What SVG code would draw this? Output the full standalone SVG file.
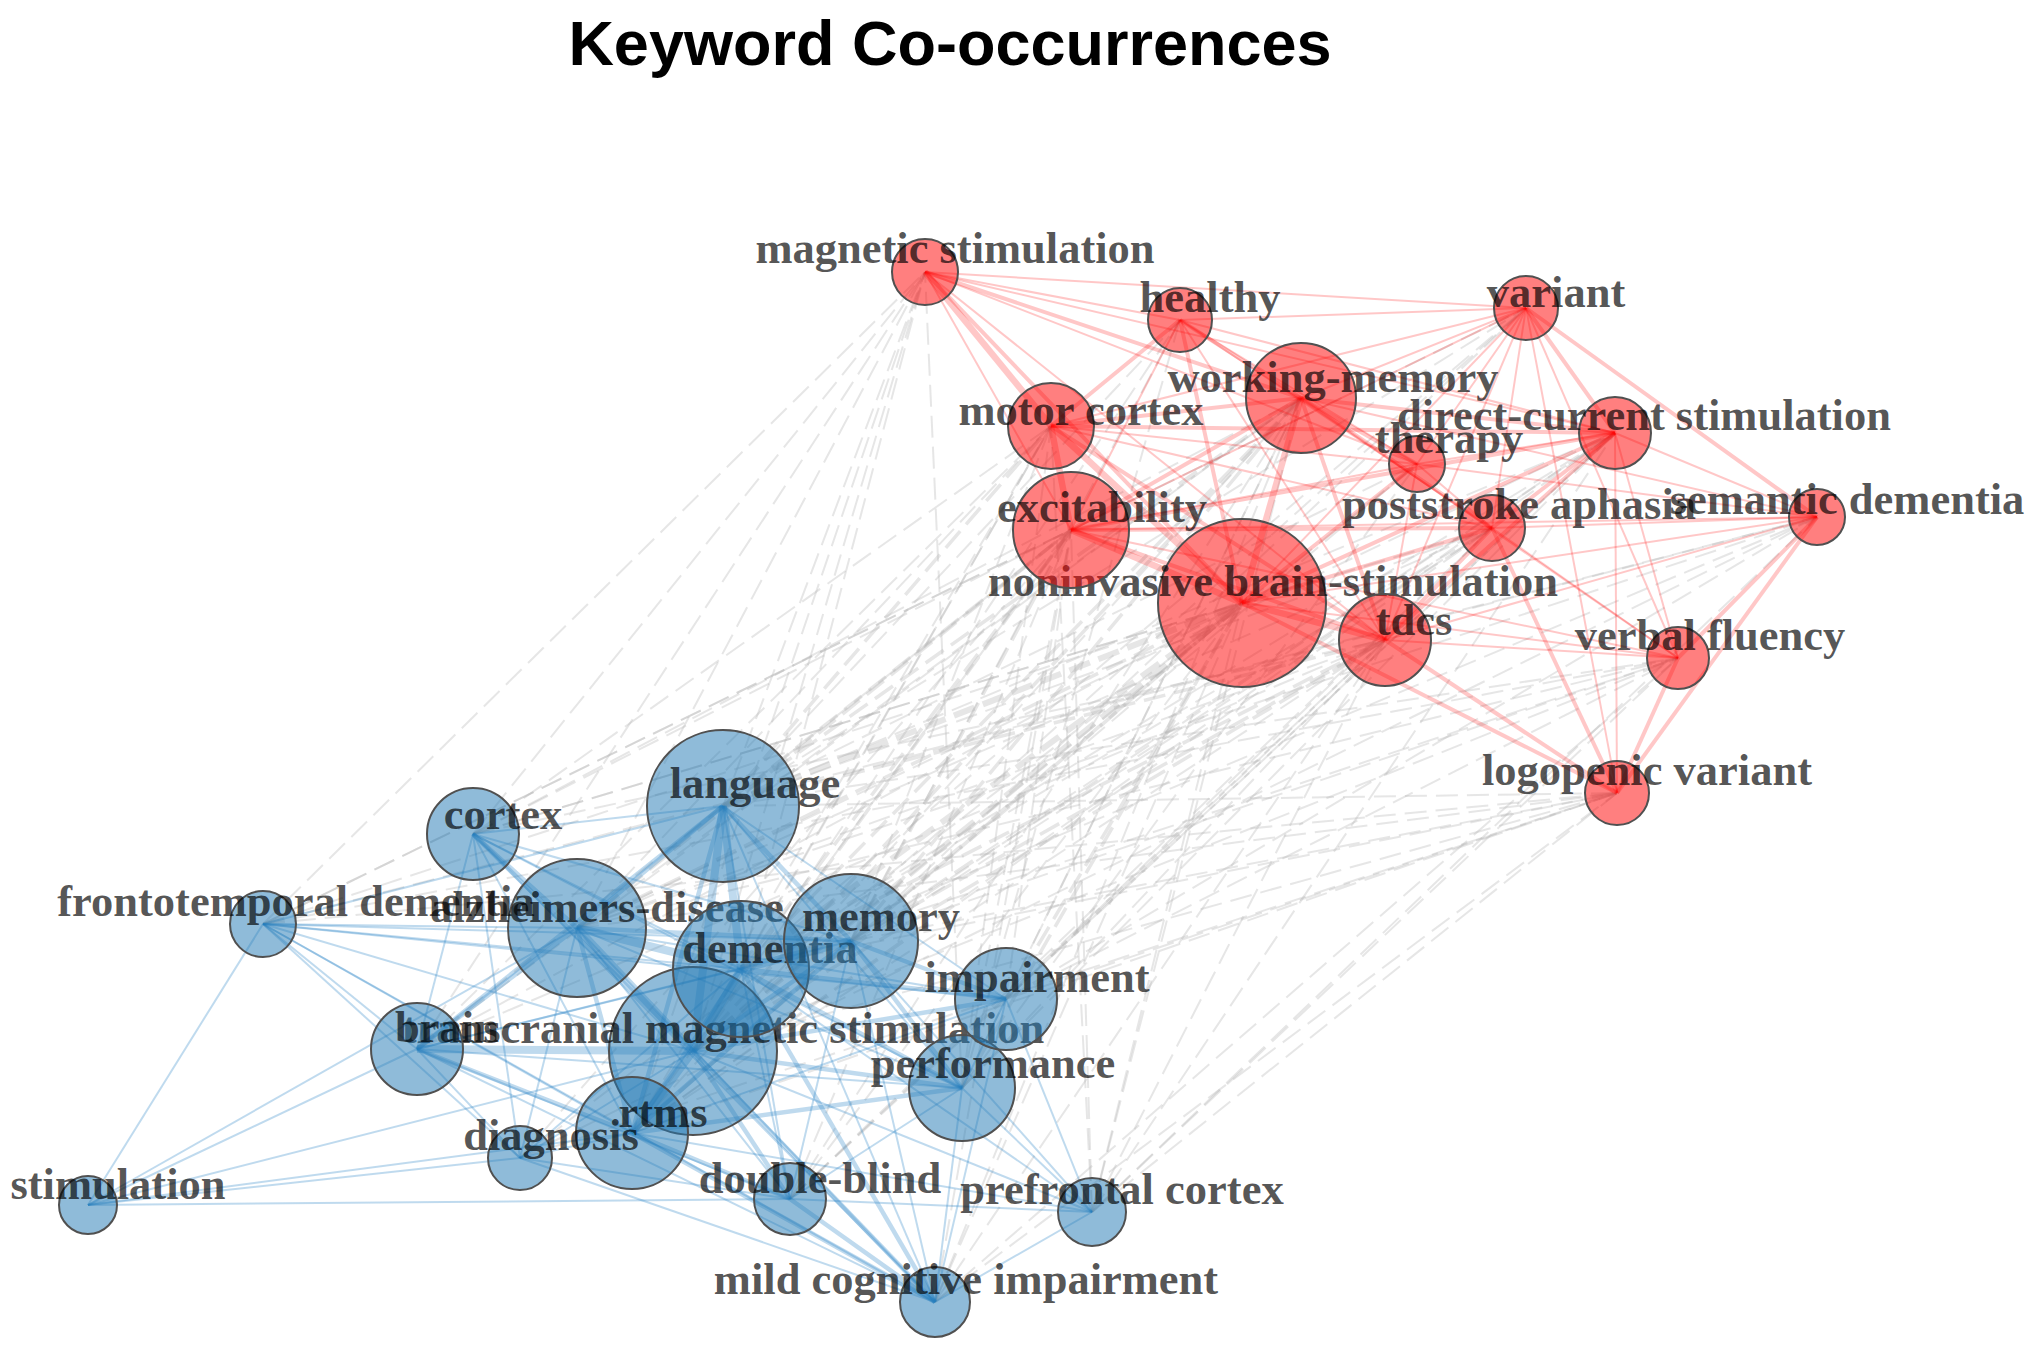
<svg xmlns="http://www.w3.org/2000/svg" width="2035" height="1354" viewBox="0 0 2035 1354">
<defs>
<style>
.title{font-family:"Liberation Sans",Arial,sans-serif;font-weight:bold;font-size:63px;fill:#000}
.lbl{font-family:"Liberation Serif","Times New Roman",serif;font-weight:bold;font-size:44.5px;fill:#000;fill-opacity:.68;text-anchor:middle}
.nr{fill:#ff0000;fill-opacity:.5;stroke:#505050;stroke-width:2}
.nb{fill:#1f78b4;fill-opacity:.5;stroke:#505050;stroke-width:2}
.r1,.r2,.r3{stroke:#ff0000;stroke-opacity:.22;fill:none}
.r1{stroke-width:2}.r2{stroke-width:4}.r3{stroke-width:6.5}
.b1,.b2,.b3{stroke:#2b83c6;stroke-opacity:.3;fill:none}
.b1{stroke-width:2}.b2{stroke-width:4.5}.b3{stroke-width:8}
.g1,.g2,.g3{stroke:#b0b0b0;stroke-opacity:.32;stroke-dasharray:22 9;fill:none}
.g1{stroke-width:2}.g2{stroke-width:3.5}.g3{stroke-width:6}
</style>
</defs>
<rect width="2035" height="1354" fill="#fff"/>
<text class="title" x="950" y="65" text-anchor="middle">Keyword Co-occurrences</text>
<g id="connectors">
<g id="grey-edges">
<line class="g1" x1="723" y1="806" x2="925" y2="272"/>
<line class="g1" x1="723" y1="806" x2="1180" y2="320"/>
<line class="g2" x1="723" y1="806" x2="1301" y2="398"/>
<line class="g2" x1="723" y1="806" x2="1051" y2="426"/>
<line class="g2" x1="723" y1="806" x2="1071" y2="530"/>
<line class="g3" x1="723" y1="806" x2="1242" y2="603"/>
<line class="g1" x1="723" y1="806" x2="1526" y2="308"/>
<line class="g1" x1="723" y1="806" x2="1615" y2="433"/>
<line class="g1" x1="723" y1="806" x2="1417" y2="464"/>
<line class="g1" x1="723" y1="806" x2="1492" y2="528"/>
<line class="g1" x1="723" y1="806" x2="1817" y2="517"/>
<line class="g2" x1="723" y1="806" x2="1385" y2="640"/>
<line class="g1" x1="723" y1="806" x2="1678" y2="658"/>
<line class="g1" x1="723" y1="806" x2="1617" y2="793"/>
<line class="g1" x1="693" y1="1051" x2="925" y2="272"/>
<line class="g1" x1="693" y1="1051" x2="1180" y2="320"/>
<line class="g2" x1="693" y1="1051" x2="1301" y2="398"/>
<line class="g1" x1="693" y1="1051" x2="1051" y2="426"/>
<line class="g2" x1="693" y1="1051" x2="1071" y2="530"/>
<line class="g3" x1="693" y1="1051" x2="1242" y2="603"/>
<line class="g1" x1="693" y1="1051" x2="1526" y2="308"/>
<line class="g1" x1="693" y1="1051" x2="1615" y2="433"/>
<line class="g1" x1="693" y1="1051" x2="1417" y2="464"/>
<line class="g1" x1="693" y1="1051" x2="1492" y2="528"/>
<line class="g2" x1="693" y1="1051" x2="1385" y2="640"/>
<line class="g1" x1="693" y1="1051" x2="1678" y2="658"/>
<line class="g1" x1="693" y1="1051" x2="1617" y2="793"/>
<line class="g1" x1="577" y1="928" x2="925" y2="272"/>
<line class="g1" x1="577" y1="928" x2="1301" y2="398"/>
<line class="g1" x1="577" y1="928" x2="1051" y2="426"/>
<line class="g2" x1="577" y1="928" x2="1071" y2="530"/>
<line class="g2" x1="577" y1="928" x2="1242" y2="603"/>
<line class="g1" x1="577" y1="928" x2="1615" y2="433"/>
<line class="g1" x1="577" y1="928" x2="1492" y2="528"/>
<line class="g1" x1="577" y1="928" x2="1817" y2="517"/>
<line class="g1" x1="577" y1="928" x2="1385" y2="640"/>
<line class="g1" x1="577" y1="928" x2="1678" y2="658"/>
<line class="g1" x1="577" y1="928" x2="1617" y2="793"/>
<line class="g1" x1="741" y1="969" x2="925" y2="272"/>
<line class="g2" x1="741" y1="969" x2="1301" y2="398"/>
<line class="g1" x1="741" y1="969" x2="1051" y2="426"/>
<line class="g2" x1="741" y1="969" x2="1071" y2="530"/>
<line class="g3" x1="741" y1="969" x2="1242" y2="603"/>
<line class="g1" x1="741" y1="969" x2="1526" y2="308"/>
<line class="g1" x1="741" y1="969" x2="1615" y2="433"/>
<line class="g1" x1="741" y1="969" x2="1492" y2="528"/>
<line class="g1" x1="741" y1="969" x2="1817" y2="517"/>
<line class="g2" x1="741" y1="969" x2="1385" y2="640"/>
<line class="g1" x1="741" y1="969" x2="1678" y2="658"/>
<line class="g1" x1="741" y1="969" x2="1617" y2="793"/>
<line class="g1" x1="851" y1="941" x2="1180" y2="320"/>
<line class="g2" x1="851" y1="941" x2="1301" y2="398"/>
<line class="g1" x1="851" y1="941" x2="1051" y2="426"/>
<line class="g2" x1="851" y1="941" x2="1071" y2="530"/>
<line class="g2" x1="851" y1="941" x2="1242" y2="603"/>
<line class="g1" x1="851" y1="941" x2="1526" y2="308"/>
<line class="g1" x1="851" y1="941" x2="1615" y2="433"/>
<line class="g1" x1="851" y1="941" x2="1417" y2="464"/>
<line class="g1" x1="851" y1="941" x2="1492" y2="528"/>
<line class="g2" x1="851" y1="941" x2="1385" y2="640"/>
<line class="g1" x1="851" y1="941" x2="1678" y2="658"/>
<line class="g1" x1="851" y1="941" x2="1617" y2="793"/>
<line class="g1" x1="632" y1="1133" x2="925" y2="272"/>
<line class="g1" x1="632" y1="1133" x2="1301" y2="398"/>
<line class="g1" x1="632" y1="1133" x2="1051" y2="426"/>
<line class="g1" x1="632" y1="1133" x2="1071" y2="530"/>
<line class="g2" x1="632" y1="1133" x2="1242" y2="603"/>
<line class="g1" x1="632" y1="1133" x2="1615" y2="433"/>
<line class="g1" x1="632" y1="1133" x2="1492" y2="528"/>
<line class="g1" x1="632" y1="1133" x2="1385" y2="640"/>
<line class="g1" x1="632" y1="1133" x2="1617" y2="793"/>
<line class="g1" x1="473" y1="834" x2="925" y2="272"/>
<line class="g1" x1="473" y1="834" x2="1301" y2="398"/>
<line class="g1" x1="473" y1="834" x2="1051" y2="426"/>
<line class="g1" x1="473" y1="834" x2="1071" y2="530"/>
<line class="g1" x1="473" y1="834" x2="1242" y2="603"/>
<line class="g1" x1="473" y1="834" x2="1385" y2="640"/>
<line class="g1" x1="473" y1="834" x2="1492" y2="528"/>
<line class="g1" x1="263" y1="924" x2="925" y2="272"/>
<line class="g1" x1="263" y1="924" x2="1071" y2="530"/>
<line class="g1" x1="263" y1="924" x2="1242" y2="603"/>
<line class="g1" x1="263" y1="924" x2="1526" y2="308"/>
<line class="g1" x1="263" y1="924" x2="1817" y2="517"/>
<line class="g1" x1="263" y1="924" x2="1678" y2="658"/>
<line class="g1" x1="263" y1="924" x2="1617" y2="793"/>
<line class="g1" x1="417" y1="1049" x2="925" y2="272"/>
<line class="g1" x1="417" y1="1049" x2="1301" y2="398"/>
<line class="g1" x1="417" y1="1049" x2="1051" y2="426"/>
<line class="g1" x1="417" y1="1049" x2="1071" y2="530"/>
<line class="g1" x1="417" y1="1049" x2="1242" y2="603"/>
<line class="g1" x1="417" y1="1049" x2="1385" y2="640"/>
<line class="g1" x1="1006" y1="999" x2="1301" y2="398"/>
<line class="g1" x1="1006" y1="999" x2="1071" y2="530"/>
<line class="g2" x1="1006" y1="999" x2="1242" y2="603"/>
<line class="g1" x1="1006" y1="999" x2="1615" y2="433"/>
<line class="g1" x1="1006" y1="999" x2="1492" y2="528"/>
<line class="g1" x1="1006" y1="999" x2="1817" y2="517"/>
<line class="g1" x1="1006" y1="999" x2="1385" y2="640"/>
<line class="g1" x1="1006" y1="999" x2="1678" y2="658"/>
<line class="g1" x1="1006" y1="999" x2="1617" y2="793"/>
<line class="g1" x1="962" y1="1088" x2="925" y2="272"/>
<line class="g1" x1="962" y1="1088" x2="1180" y2="320"/>
<line class="g1" x1="962" y1="1088" x2="1301" y2="398"/>
<line class="g1" x1="962" y1="1088" x2="1051" y2="426"/>
<line class="g1" x1="962" y1="1088" x2="1071" y2="530"/>
<line class="g2" x1="962" y1="1088" x2="1242" y2="603"/>
<line class="g1" x1="962" y1="1088" x2="1615" y2="433"/>
<line class="g1" x1="962" y1="1088" x2="1417" y2="464"/>
<line class="g1" x1="962" y1="1088" x2="1385" y2="640"/>
<line class="g1" x1="520" y1="1158" x2="1071" y2="530"/>
<line class="g1" x1="520" y1="1158" x2="1242" y2="603"/>
<line class="g1" x1="520" y1="1158" x2="1817" y2="517"/>
<line class="g1" x1="520" y1="1158" x2="1617" y2="793"/>
<line class="g1" x1="790" y1="1199" x2="1301" y2="398"/>
<line class="g1" x1="790" y1="1199" x2="1071" y2="530"/>
<line class="g1" x1="790" y1="1199" x2="1242" y2="603"/>
<line class="g1" x1="790" y1="1199" x2="1615" y2="433"/>
<line class="g1" x1="790" y1="1199" x2="1492" y2="528"/>
<line class="g1" x1="790" y1="1199" x2="1385" y2="640"/>
<line class="g1" x1="1092" y1="1212" x2="1301" y2="398"/>
<line class="g1" x1="1092" y1="1212" x2="1051" y2="426"/>
<line class="g1" x1="1092" y1="1212" x2="1071" y2="530"/>
<line class="g1" x1="1092" y1="1212" x2="1242" y2="603"/>
<line class="g1" x1="1092" y1="1212" x2="1615" y2="433"/>
<line class="g1" x1="1092" y1="1212" x2="1817" y2="517"/>
<line class="g1" x1="1092" y1="1212" x2="1385" y2="640"/>
<line class="g1" x1="1092" y1="1212" x2="1678" y2="658"/>
<line class="g1" x1="1092" y1="1212" x2="1617" y2="793"/>
<line class="g1" x1="935" y1="1302" x2="1301" y2="398"/>
<line class="g1" x1="935" y1="1302" x2="1071" y2="530"/>
<line class="g1" x1="935" y1="1302" x2="1242" y2="603"/>
<line class="g1" x1="935" y1="1302" x2="1385" y2="640"/>
<line class="g1" x1="935" y1="1302" x2="1678" y2="658"/>
<line class="g1" x1="935" y1="1302" x2="1617" y2="793"/>
</g>
<g id="red-edges">
<line class="r1" x1="925" y1="272" x2="1180" y2="320"/>
<line class="r2" x1="925" y1="272" x2="1301" y2="398"/>
<line class="r3" x1="925" y1="272" x2="1051" y2="426"/>
<line class="r1" x1="925" y1="272" x2="1071" y2="530"/>
<line class="r2" x1="925" y1="272" x2="1242" y2="603"/>
<line class="r1" x1="925" y1="272" x2="1417" y2="464"/>
<line class="r1" x1="925" y1="272" x2="1615" y2="433"/>
<line class="r1" x1="925" y1="272" x2="1385" y2="640"/>
<line class="r1" x1="925" y1="272" x2="1526" y2="308"/>
<line class="r2" x1="1180" y1="320" x2="1301" y2="398"/>
<line class="r2" x1="1180" y1="320" x2="1051" y2="426"/>
<line class="r1" x1="1180" y1="320" x2="1071" y2="530"/>
<line class="r2" x1="1180" y1="320" x2="1242" y2="603"/>
<line class="r1" x1="1180" y1="320" x2="1526" y2="308"/>
<line class="r1" x1="1180" y1="320" x2="1615" y2="433"/>
<line class="r1" x1="1180" y1="320" x2="1417" y2="464"/>
<line class="r1" x1="1180" y1="320" x2="1385" y2="640"/>
<line class="r1" x1="1180" y1="320" x2="1492" y2="528"/>
<line class="r2" x1="1301" y1="398" x2="1051" y2="426"/>
<line class="r2" x1="1301" y1="398" x2="1071" y2="530"/>
<line class="r3" x1="1301" y1="398" x2="1242" y2="603"/>
<line class="r1" x1="1301" y1="398" x2="1526" y2="308"/>
<line class="r2" x1="1301" y1="398" x2="1615" y2="433"/>
<line class="r2" x1="1301" y1="398" x2="1417" y2="464"/>
<line class="r2" x1="1301" y1="398" x2="1492" y2="528"/>
<line class="r1" x1="1301" y1="398" x2="1817" y2="517"/>
<line class="r2" x1="1301" y1="398" x2="1385" y2="640"/>
<line class="r1" x1="1301" y1="398" x2="1678" y2="658"/>
<line class="r3" x1="1051" y1="426" x2="1071" y2="530"/>
<line class="r3" x1="1051" y1="426" x2="1242" y2="603"/>
<line class="r1" x1="1051" y1="426" x2="1526" y2="308"/>
<line class="r2" x1="1051" y1="426" x2="1615" y2="433"/>
<line class="r1" x1="1051" y1="426" x2="1417" y2="464"/>
<line class="r1" x1="1051" y1="426" x2="1492" y2="528"/>
<line class="r2" x1="1051" y1="426" x2="1385" y2="640"/>
<line class="r3" x1="1071" y1="530" x2="1242" y2="603"/>
<line class="r1" x1="1071" y1="530" x2="1526" y2="308"/>
<line class="r2" x1="1071" y1="530" x2="1615" y2="433"/>
<line class="r1" x1="1071" y1="530" x2="1417" y2="464"/>
<line class="r2" x1="1071" y1="530" x2="1492" y2="528"/>
<line class="r1" x1="1071" y1="530" x2="1817" y2="517"/>
<line class="r2" x1="1071" y1="530" x2="1385" y2="640"/>
<line class="r1" x1="1071" y1="530" x2="1678" y2="658"/>
<line class="r1" x1="1242" y1="603" x2="1526" y2="308"/>
<line class="r2" x1="1242" y1="603" x2="1615" y2="433"/>
<line class="r2" x1="1242" y1="603" x2="1417" y2="464"/>
<line class="r2" x1="1242" y1="603" x2="1492" y2="528"/>
<line class="r1" x1="1242" y1="603" x2="1817" y2="517"/>
<line class="r3" x1="1242" y1="603" x2="1385" y2="640"/>
<line class="r1" x1="1242" y1="603" x2="1678" y2="658"/>
<line class="r2" x1="1242" y1="603" x2="1617" y2="793"/>
<line class="r2" x1="1526" y1="308" x2="1615" y2="433"/>
<line class="r1" x1="1526" y1="308" x2="1417" y2="464"/>
<line class="r1" x1="1526" y1="308" x2="1492" y2="528"/>
<line class="r2" x1="1526" y1="308" x2="1817" y2="517"/>
<line class="r1" x1="1526" y1="308" x2="1385" y2="640"/>
<line class="r1" x1="1526" y1="308" x2="1678" y2="658"/>
<line class="r1" x1="1526" y1="308" x2="1617" y2="793"/>
<line class="r1" x1="1615" y1="433" x2="1417" y2="464"/>
<line class="r2" x1="1615" y1="433" x2="1492" y2="528"/>
<line class="r1" x1="1615" y1="433" x2="1817" y2="517"/>
<line class="r2" x1="1615" y1="433" x2="1385" y2="640"/>
<line class="r1" x1="1615" y1="433" x2="1678" y2="658"/>
<line class="r1" x1="1615" y1="433" x2="1617" y2="793"/>
<line class="r1" x1="1417" y1="464" x2="1492" y2="528"/>
<line class="r1" x1="1417" y1="464" x2="1385" y2="640"/>
<line class="r1" x1="1417" y1="464" x2="1817" y2="517"/>
<line class="r1" x1="1492" y1="528" x2="1817" y2="517"/>
<line class="r2" x1="1492" y1="528" x2="1385" y2="640"/>
<line class="r1" x1="1492" y1="528" x2="1678" y2="658"/>
<line class="r2" x1="1492" y1="528" x2="1617" y2="793"/>
<line class="r1" x1="1817" y1="517" x2="1385" y2="640"/>
<line class="r2" x1="1817" y1="517" x2="1678" y2="658"/>
<line class="r2" x1="1817" y1="517" x2="1617" y2="793"/>
<line class="r1" x1="1385" y1="640" x2="1678" y2="658"/>
<line class="r2" x1="1385" y1="640" x2="1617" y2="793"/>
<line class="r2" x1="1678" y1="658" x2="1617" y2="793"/>
</g>
<g id="blue-edges">
<line class="b1" x1="473" y1="834" x2="723" y2="806"/>
<line class="b2" x1="473" y1="834" x2="577" y2="928"/>
<line class="b1" x1="473" y1="834" x2="741" y2="969"/>
<line class="b1" x1="473" y1="834" x2="851" y2="941"/>
<line class="b1" x1="473" y1="834" x2="417" y2="1049"/>
<line class="b2" x1="473" y1="834" x2="693" y2="1051"/>
<line class="b1" x1="473" y1="834" x2="520" y2="1158"/>
<line class="b1" x1="473" y1="834" x2="632" y2="1133"/>
<line class="b1" x1="473" y1="834" x2="962" y2="1088"/>
<line class="b1" x1="473" y1="834" x2="935" y2="1302"/>
<line class="b2" x1="723" y1="806" x2="577" y2="928"/>
<line class="b3" x1="723" y1="806" x2="741" y2="969"/>
<line class="b2" x1="723" y1="806" x2="851" y2="941"/>
<line class="b1" x1="723" y1="806" x2="1006" y2="999"/>
<line class="b2" x1="723" y1="806" x2="417" y2="1049"/>
<line class="b3" x1="723" y1="806" x2="693" y2="1051"/>
<line class="b1" x1="723" y1="806" x2="962" y2="1088"/>
<line class="b2" x1="723" y1="806" x2="632" y2="1133"/>
<line class="b1" x1="723" y1="806" x2="790" y2="1199"/>
<line class="b1" x1="723" y1="806" x2="935" y2="1302"/>
<line class="b1" x1="723" y1="806" x2="263" y2="924"/>
<line class="b1" x1="263" y1="924" x2="577" y2="928"/>
<line class="b1" x1="263" y1="924" x2="741" y2="969"/>
<line class="b1" x1="263" y1="924" x2="851" y2="941"/>
<line class="b1" x1="263" y1="924" x2="417" y2="1049"/>
<line class="b1" x1="263" y1="924" x2="693" y2="1051"/>
<line class="b1" x1="263" y1="924" x2="632" y2="1133"/>
<line class="b1" x1="263" y1="924" x2="88" y2="1205"/>
<line class="b1" x1="263" y1="924" x2="520" y2="1158"/>
<line class="b1" x1="263" y1="924" x2="935" y2="1302"/>
<line class="b1" x1="263" y1="924" x2="1006" y2="999"/>
<line class="b3" x1="577" y1="928" x2="741" y2="969"/>
<line class="b2" x1="577" y1="928" x2="851" y2="941"/>
<line class="b1" x1="577" y1="928" x2="1006" y2="999"/>
<line class="b2" x1="577" y1="928" x2="417" y2="1049"/>
<line class="b3" x1="577" y1="928" x2="693" y2="1051"/>
<line class="b1" x1="577" y1="928" x2="962" y2="1088"/>
<line class="b1" x1="577" y1="928" x2="520" y2="1158"/>
<line class="b2" x1="577" y1="928" x2="632" y2="1133"/>
<line class="b1" x1="577" y1="928" x2="790" y2="1199"/>
<line class="b1" x1="577" y1="928" x2="935" y2="1302"/>
<line class="b3" x1="741" y1="969" x2="851" y2="941"/>
<line class="b2" x1="741" y1="969" x2="1006" y2="999"/>
<line class="b1" x1="741" y1="969" x2="417" y2="1049"/>
<line class="b3" x1="741" y1="969" x2="693" y2="1051"/>
<line class="b2" x1="741" y1="969" x2="962" y2="1088"/>
<line class="b1" x1="741" y1="969" x2="520" y2="1158"/>
<line class="b2" x1="741" y1="969" x2="632" y2="1133"/>
<line class="b1" x1="741" y1="969" x2="790" y2="1199"/>
<line class="b1" x1="741" y1="969" x2="1092" y2="1212"/>
<line class="b2" x1="741" y1="969" x2="935" y2="1302"/>
<line class="b2" x1="851" y1="941" x2="1006" y2="999"/>
<line class="b1" x1="851" y1="941" x2="417" y2="1049"/>
<line class="b2" x1="851" y1="941" x2="693" y2="1051"/>
<line class="b2" x1="851" y1="941" x2="962" y2="1088"/>
<line class="b2" x1="851" y1="941" x2="632" y2="1133"/>
<line class="b1" x1="851" y1="941" x2="790" y2="1199"/>
<line class="b1" x1="851" y1="941" x2="1092" y2="1212"/>
<line class="b1" x1="851" y1="941" x2="935" y2="1302"/>
<line class="b2" x1="1006" y1="999" x2="693" y2="1051"/>
<line class="b1" x1="1006" y1="999" x2="962" y2="1088"/>
<line class="b1" x1="1006" y1="999" x2="632" y2="1133"/>
<line class="b1" x1="1006" y1="999" x2="1092" y2="1212"/>
<line class="b1" x1="1006" y1="999" x2="935" y2="1302"/>
<line class="b3" x1="417" y1="1049" x2="693" y2="1051"/>
<line class="b1" x1="417" y1="1049" x2="962" y2="1088"/>
<line class="b1" x1="417" y1="1049" x2="520" y2="1158"/>
<line class="b2" x1="417" y1="1049" x2="632" y2="1133"/>
<line class="b1" x1="417" y1="1049" x2="88" y2="1205"/>
<line class="b1" x1="417" y1="1049" x2="790" y2="1199"/>
<line class="b1" x1="417" y1="1049" x2="935" y2="1302"/>
<line class="b2" x1="693" y1="1051" x2="962" y2="1088"/>
<line class="b1" x1="693" y1="1051" x2="520" y2="1158"/>
<line class="b3" x1="693" y1="1051" x2="632" y2="1133"/>
<line class="b1" x1="693" y1="1051" x2="88" y2="1205"/>
<line class="b2" x1="693" y1="1051" x2="790" y2="1199"/>
<line class="b1" x1="693" y1="1051" x2="1092" y2="1212"/>
<line class="b2" x1="693" y1="1051" x2="935" y2="1302"/>
<line class="b2" x1="962" y1="1088" x2="632" y2="1133"/>
<line class="b1" x1="962" y1="1088" x2="790" y2="1199"/>
<line class="b1" x1="962" y1="1088" x2="1092" y2="1212"/>
<line class="b1" x1="962" y1="1088" x2="935" y2="1302"/>
<line class="b1" x1="520" y1="1158" x2="632" y2="1133"/>
<line class="b1" x1="520" y1="1158" x2="88" y2="1205"/>
<line class="b1" x1="520" y1="1158" x2="790" y2="1199"/>
<line class="b1" x1="520" y1="1158" x2="935" y2="1302"/>
<line class="b2" x1="632" y1="1133" x2="790" y2="1199"/>
<line class="b1" x1="632" y1="1133" x2="88" y2="1205"/>
<line class="b1" x1="632" y1="1133" x2="1092" y2="1212"/>
<line class="b2" x1="632" y1="1133" x2="935" y2="1302"/>
<line class="b1" x1="88" y1="1205" x2="790" y2="1199"/>
<line class="b1" x1="88" y1="1205" x2="577" y2="928"/>
<line class="b1" x1="790" y1="1199" x2="1092" y2="1212"/>
<line class="b2" x1="790" y1="1199" x2="935" y2="1302"/>
<line class="b1" x1="1092" y1="1212" x2="935" y2="1302"/>
</g>
</g>
<g id="node-noninvasive-brain-stimulation"><circle class="nr" cx="1242" cy="603" r="84"/><text class="lbl" x="1273" y="596">noninvasive brain-stimulation</text></g>
<g id="node-excitability"><circle class="nr" cx="1071" cy="530" r="58"/><text class="lbl" x="1102" y="522">excitability</text></g>
<g id="node-working-memory"><circle class="nr" cx="1301" cy="398" r="55"/><text class="lbl" x="1333" y="392">working-memory</text></g>
<g id="node-tdcs"><circle class="nr" cx="1385" cy="640" r="46"/><text class="lbl" x="1414" y="635">tdcs</text></g>
<g id="node-motor-cortex"><circle class="nr" cx="1051" cy="426" r="43"/><text class="lbl" x="1081" y="425">motor cortex</text></g>
<g id="node-direct-current-stimulation"><circle class="nr" cx="1615" cy="433" r="36"/><text class="lbl" x="1644" y="430">direct-current stimulation</text></g>
<g id="node-magnetic-stimulation"><circle class="nr" cx="925" cy="272" r="33"/><text class="lbl" x="955" y="263">magnetic stimulation</text></g>
<g id="node-poststroke-aphasia"><circle class="nr" cx="1492" cy="528" r="33"/><text class="lbl" x="1519" y="519">poststroke aphasia</text></g>
<g id="node-healthy"><circle class="nr" cx="1180" cy="320" r="32"/><text class="lbl" x="1210" y="312">healthy</text></g>
<g id="node-variant"><circle class="nr" cx="1526" cy="308" r="32"/><text class="lbl" x="1556" y="307">variant</text></g>
<g id="node-logopenic-variant"><circle class="nr" cx="1617" cy="793" r="32"/><text class="lbl" x="1647" y="785">logopenic variant</text></g>
<g id="node-verbal-fluency"><circle class="nr" cx="1678" cy="658" r="31"/><text class="lbl" x="1710" y="650">verbal fluency</text></g>
<g id="node-therapy"><circle class="nr" cx="1417" cy="464" r="28"/><text class="lbl" x="1449" y="453">therapy</text></g>
<g id="node-semantic-dementia"><circle class="nr" cx="1817" cy="517" r="28"/><text class="lbl" x="1847" y="514">semantic dementia</text></g>
<g id="node-transcranial-magnetic-stimulation"><circle class="nb" cx="693" cy="1051" r="84"/><text class="lbl" x="723" y="1043">transcranial magnetic stimulation</text></g>
<g id="node-language"><circle class="nb" cx="723" cy="806" r="76"/><text class="lbl" x="755" y="798">language</text></g>
<g id="node-alzheimers-disease"><circle class="nb" cx="577" cy="928" r="69"/><text class="lbl" x="607" y="922">alzheimers-disease</text></g>
<g id="node-dementia"><circle class="nb" cx="741" cy="969" r="68"/><text class="lbl" x="770" y="963">dementia</text></g>
<g id="node-memory"><circle class="nb" cx="851" cy="941" r="67"/><text class="lbl" x="881" y="931">memory</text></g>
<g id="node-rtms"><circle class="nb" cx="632" cy="1133" r="56"/><text class="lbl" x="663" y="1127">rtms</text></g>
<g id="node-performance"><circle class="nb" cx="962" cy="1088" r="53"/><text class="lbl" x="993" y="1078">performance</text></g>
<g id="node-impairment"><circle class="nb" cx="1006" cy="999" r="51"/><text class="lbl" x="1037" y="992">impairment</text></g>
<g id="node-cortex"><circle class="nb" cx="473" cy="834" r="46"/><text class="lbl" x="503" y="829">cortex</text></g>
<g id="node-brain"><circle class="nb" cx="417" cy="1049" r="46"/><text class="lbl" x="447" y="1042">brain</text></g>
<g id="node-double-blind"><circle class="nb" cx="790" cy="1199" r="36"/><text class="lbl" x="820" y="1193">double-blind</text></g>
<g id="node-mild-cognitive-impairment"><circle class="nb" cx="935" cy="1302" r="35"/><text class="lbl" x="966" y="1294">mild cognitive impairment</text></g>
<g id="node-prefrontal-cortex"><circle class="nb" cx="1092" cy="1212" r="34"/><text class="lbl" x="1122" y="1204">prefrontal cortex</text></g>
<g id="node-frontotemporal-dementia"><circle class="nb" cx="263" cy="924" r="33"/><text class="lbl" x="296" y="916">frontotemporal dementia</text></g>
<g id="node-diagnosis"><circle class="nb" cx="520" cy="1158" r="32"/><text class="lbl" x="551" y="1150">diagnosis</text></g>
<g id="node-stimulation"><circle class="nb" cx="88" cy="1205" r="29"/><text class="lbl" x="118" y="1199">stimulation</text></g>
</svg>
